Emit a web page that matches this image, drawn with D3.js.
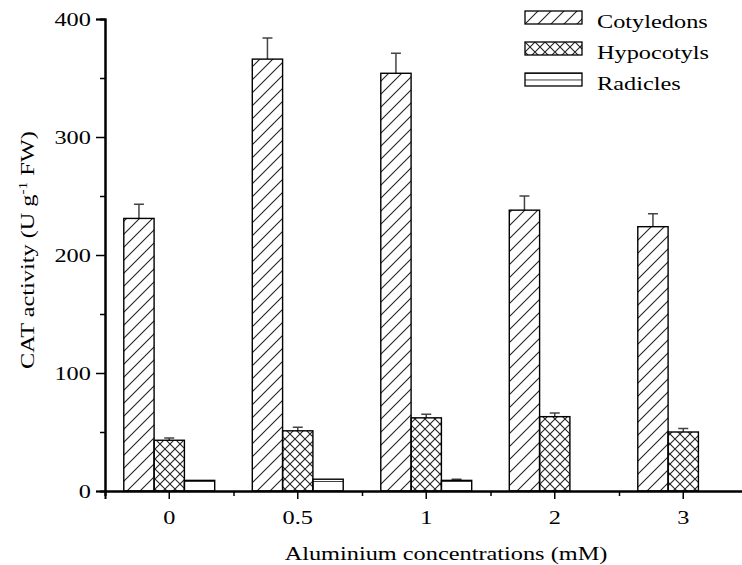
<!DOCTYPE html>
<html>
<head>
<meta charset="utf-8">
<script src="https://cdn.jsdelivr.net/npm/d3@7"></script>
<style>
  body { margin: 0; background: #fff; }
  text { font-family: "Liberation Serif", "DejaVu Serif", serif; fill: #000; }
</style>
</head>
<body>
<div id="wrapper"></div>
<script>
// data
const categories = ["0", "0.5", "1", "2", "3"]
const seriesNames = ["Cotyledons", "Hypocotyls", "Radicles"]
const cotyledons = [231, 366, 354, 238, 224]
const cotyledonsErr = [12, 18, 17, 12, 11]
const hypocotyls = [43, 51, 62, 63, 50]
const hypocotylsErr = [2, 3, 3, 3, 3]
const radicles = [9, 10, 9, 0, 0]
const radiclesErr = [0, 0, 1, 0, 0]
const yTicks = [0, 100, 200, 300, 400]
const yMinorTicks = [50, 150, 250, 350]

const seriesValues = [cotyledons, hypocotyls, radicles]
const seriesErrors = [cotyledonsErr, hypocotylsErr, radiclesErr]
const patterns = ["diag", "cross", "horiz"]
const legendPatterns = ["diag", "cross", "horizLegend"]

const stretch = 1.28

let dimensions = {
  width: 742,
  height: 565,
  margins: { top: 19, right: -5.5, bottom: 74, left: 105 },
}
dimensions.boundedWidth = dimensions.width - dimensions.margins.left - dimensions.margins.right
dimensions.boundedHeight = dimensions.height - dimensions.margins.top - dimensions.margins.bottom

const wrapper = d3.select("#wrapper")
  .append("svg")
    .attr("width", dimensions.width)
    .attr("height", dimensions.height)

// hatch patterns
const defs = wrapper.append("defs")
const diag = defs.append("pattern")
  .attr("id", "diag")
  .attr("patternUnits", "userSpaceOnUse")
  .attr("width", 13).attr("height", 13)
diag.append("path")
  .attr("d", "M0,13 L13,0 M-3,3 L3,-3 M10,16 L16,10")
  .attr("stroke", "#222").attr("stroke-width", 1.1)

const cross = defs.append("pattern")
  .attr("id", "cross")
  .attr("patternUnits", "userSpaceOnUse")
  .attr("width", 10).attr("height", 10)
cross.append("path")
  .attr("d", "M0,0 L10,10 M10,0 L0,10")
  .attr("stroke", "#222").attr("stroke-width", 1.1)

const horiz = defs.append("pattern")
  .attr("id", "horiz")
  .attr("patternUnits", "userSpaceOnUse")
  .attr("width", 10).attr("height", 10)
  .attr("y", 2)
horiz.append("path")
  .attr("d", "M0,0 L10,0")
  .attr("stroke", "#000").attr("stroke-width", 1.5)

const horizLegend = defs.append("pattern")
  .attr("id", "horizLegend")
  .attr("patternUnits", "userSpaceOnUse")
  .attr("width", 10).attr("height", 6.5)
horizLegend.append("path")
  .attr("d", "M0,0 L10,0")
  .attr("stroke", "#000").attr("stroke-width", 1.5)

const bounds = wrapper.append("g")
  .attr("transform", `translate(${dimensions.margins.left},${dimensions.margins.top})`)

// scales
const xScale = d3.scaleBand()
  .domain(categories)
  .range([0, dimensions.boundedWidth])
  .padding(0)

const innerScale = d3.scaleBand()
  .domain(seriesNames)
  .range([0, xScale.bandwidth()])
  .paddingInner(0)
  .paddingOuter(0.62)

const yScale = d3.scaleLinear()
  .domain([0, 400])
  .range([dimensions.boundedHeight, 0])

const minorX = d3.scaleLinear()
  .domain([0, categories.length])
  .range([0, dimensions.boundedWidth])

// bars
const groups = bounds.selectAll(".series")
  .data(seriesNames)
  .join("g")
    .attr("class", "series")

groups.each(function(name, si) {
  const g = d3.select(this)
  const vals = seriesValues[si]
  const errs = seriesErrors[si]
  const rows = categories.map((c, i) => ({ c, v: vals[i], e: errs[i] })).filter(d => d.v > 0)

  // error bars (upper only)
  g.selectAll(".err")
    .data(rows.filter(d => d.e > 0))
    .join("path")
      .attr("class", "err")
      .attr("d", d => {
        const cx = xScale(d.c) + innerScale(name) + innerScale.bandwidth() / 2
        const y0 = yScale(d.v)
        const y1 = yScale(d.v + d.e)
        return `M${cx},${y0} V${y1} M${cx - 5},${y1} H${cx + 5}`
      })
      .attr("fill", "none")
      .attr("stroke", "#444")
      .attr("stroke-width", 1.5)

  g.selectAll("rect")
    .data(rows)
    .join("rect")
      .attr("x", d => xScale(d.c) + innerScale(name))
      .attr("y", d => yScale(d.v))
      .attr("width", innerScale.bandwidth())
      .attr("height", d => dimensions.boundedHeight - yScale(d.v))
      .attr("fill", `url(#${patterns[si]})`)
      .attr("stroke", "#000")
      .attr("stroke-width", 1.4)
})

// axes
const styleText = (sel) => sel.selectAll("text")
  .attr("font-family", "Liberation Serif")
  .attr("font-size", 19)
  .attr("fill", "#000")

const yAxis = bounds.append("g")
  .call(d3.axisLeft(yScale).tickValues(yTicks).tickSize(9).tickPadding(2))
yAxis.call(styleText)
yAxis.selectAll("text").attr("transform", `scale(${stretch},1)`)
bounds.append("g")
  .call(d3.axisLeft(yScale).tickValues(yMinorTicks).tickSize(5).tickFormat(""))

const xAxis = bounds.append("g")
  .attr("transform", `translate(0,${dimensions.boundedHeight})`)
  .call(d3.axisBottom(xScale).tickSize(8).tickPadding(12))
xAxis.call(styleText)
xAxis.selectAll("text").attr("transform", `scale(${stretch},1)`)
bounds.append("g")
  .attr("transform", `translate(0,${dimensions.boundedHeight})`)
  .call(d3.axisBottom(minorX).tickValues(d3.range(categories.length)).tickSize(5).tickFormat(""))

bounds.selectAll(".domain")
  .attr("stroke", "#000")
  .attr("stroke-width", 2)
bounds.selectAll(".tick line")
  .attr("stroke", "#000")
  .attr("stroke-width", 1.5)

// axis titles
wrapper.append("text")
  .attr("transform", `translate(446,560) scale(${stretch},1)`)
  .attr("text-anchor", "middle")
  .attr("font-size", 19)
  .text("Aluminium concentrations (mM)")

const yTitle = wrapper.append("text")
  .attr("transform", `translate(34,250) rotate(-90) scale(${stretch},1)`)
  .attr("text-anchor", "middle")
  .attr("font-size", 19)
yTitle.append("tspan").text("CAT activity (U g")
yTitle.append("tspan").attr("font-size", 12).attr("dy", -7).text("-1")
yTitle.append("tspan").attr("dy", 7).text(" FW)")

// legend
const legend = wrapper.append("g")
  .attr("transform", "translate(525,11)")
const legendRows = legend.selectAll("g")
  .data(seriesNames)
  .join("g")
    .attr("transform", (d, i) => `translate(0,${i * 31})`)
legendRows.append("rect")
  .attr("width", 57)
  .attr("height", 13)
  .attr("fill", (d, i) => `url(#${legendPatterns[i]})`)
  .attr("stroke", "#000")
  .attr("stroke-width", 1.3)
legendRows.append("text")
  .attr("transform", `translate(72,17) scale(${stretch},1)`)
  .attr("font-size", 19)
  .text(d => d)
</script>
</body>
</html>
